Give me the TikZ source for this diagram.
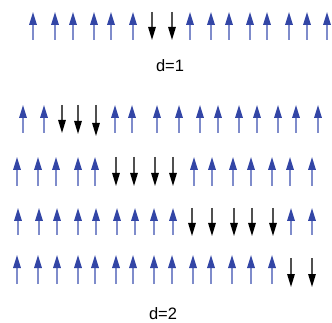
\documentclass[tikz,border=0pt]{standalone}
\usepackage{fontspec}
\setmainfont{Liberation Sans}
\usetikzlibrary{arrows.meta}
\definecolor{headblue}{HTML}{3346A6}
\definecolor{shaftblue}{HTML}{7F8CCB}
\definecolor{shaftgray}{HTML}{505050}
\tikzset{
  spinup/.style={draw=shaftblue, line width=1.6pt, -{Triangle[length=13pt,width=7.5pt,color=headblue]}},
  spindown/.style={draw=shaftgray, line width=1.4pt, -{Triangle[length=13pt,width=7.5pt,color=black]}},
  lbl/.style={font=\fontsize{16.5}{19}\selectfont, inner sep=0pt}
}
\begin{document}
\begin{tikzpicture}[x=1pt,y=-1pt]
\useasboundingbox (0,0) rectangle (332,323);
% row 1
\foreach \x in {33,55,73,94,111,133,190,211,229,250,267,289,307,327} \draw[spinup] (\x,40) -- (\x,12);
\foreach \x in {152,172} \draw[spindown] (\x,12) -- (\x,40);
\node[lbl] (d1) at (170,66) {d=1};
% row 2
\foreach \x in {23,44,115,132,157,179,200,218,239,257,278,296,318} \draw[spinup] (\x,133) -- (\x,105);
\foreach \x/\b in {62/133,78/134,96/136} \draw[spindown] (\x,105) -- (\x,\b);
% row 3
\foreach \x in {17,38,56,78,95,194,212,233,251,272,290,312} \draw[spinup] (\x,186) -- (\x,157);
\foreach \x in {116,134,155,173} \draw[spindown] (\x,157) -- (\x,186);
% row 4
\foreach \x in {18,39,57,78,96,117,135,154,173,291,312} \draw[spinup] (\x,235) -- (\x,208);
\foreach \x in {192,212,234,252,273} \draw[spindown] (\x,208) -- (\x,236);
% row 5
\foreach \x in {17,38,57,78,95,116,133,154,172,193,211,232,251,272} \draw[spinup] (\x,284) -- (\x,255);
\foreach \x in {291,312} \draw[spindown] (\x,258) -- (\x,287);
\node[lbl] (d2) at (163,314) {d=2};
\end{tikzpicture}
\end{document}
